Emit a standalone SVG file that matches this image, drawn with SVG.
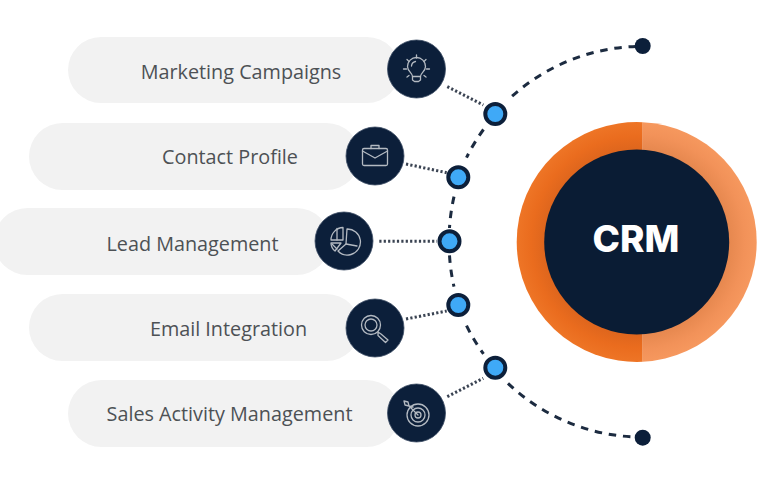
<svg xmlns="http://www.w3.org/2000/svg" width="768" height="478" viewBox="0 0 768 478">
  <style>
    .pill { fill: #f2f2f2; }
    .label { font-family: "Open Sans", "Noto Sans", sans-serif; font-size: 19.8px; fill: #4d5155; text-anchor: middle; }
    .badge { fill: #0c1f3a; stroke: #3c4c64; stroke-width: 0.8; }
    .glyph { fill: none; stroke: #b4bac2; stroke-width: 1.3; stroke-linecap: round; stroke-linejoin: round; }
    .dash { fill: none; stroke: #1c2b40; stroke-width: 3; stroke-dasharray: 7.5 6.8; }
    .dots { fill: none; stroke: #3a4352; stroke-width: 3; stroke-dasharray: 2.2 2.2; }
    .junction { fill: #3fa9f7; stroke: #0c1f3a; stroke-width: 4; }
    .end { fill: #0c1f3a; }
  </style>
  <defs>
    <radialGradient id="ringLeft" gradientUnits="userSpaceOnUse" cx="636.7" cy="242" r="120">
      <stop offset="0.76" stop-color="#dd651d"/>
      <stop offset="0.88" stop-color="#ea6c1e"/>
      <stop offset="1" stop-color="#ee7526"/>
    </radialGradient>
    <radialGradient id="ringRight" gradientUnits="userSpaceOnUse" cx="636.7" cy="242" r="120">
      <stop offset="0.76" stop-color="#e5874e"/>
      <stop offset="0.9" stop-color="#f29259"/>
      <stop offset="1" stop-color="#f6985e"/>
    </radialGradient>
  </defs>
  <rect width="768" height="478" fill="#ffffff"/>

  <g id="connectors">
    <path class="dash" d="M636 46.4A195.5 195.5 0 0 0 508 100"/>
    <path class="dash" d="M483.5 129.5A195.5 195.5 0 0 0 466.5 157.7"/>
    <path class="dash" d="M454 196.7A195.5 195.5 0 0 0 449.5 228"/>
    <path class="dash" d="M449.5 255.4A195.5 195.5 0 0 0 454 286.7"/>
    <path class="dash" d="M466.5 325.7A195.5 195.5 0 0 0 483.5 353.9"/>
    <path class="dash" d="M508 383.4A195.5 195.5 0 0 0 636 437"/>
    <path class="dots" d="M447.3 86.7L483.3 105"/>
    <path class="dots" d="M406 164L446.7 172.7"/>
    <path class="dots" d="M379.3 241.3H437"/>
    <path class="dots" d="M406 319L446.7 311"/>
    <path class="dots" d="M447.3 396.7L483.3 378.3"/>
  </g>

  <g id="junctions">
    <circle class="junction" cx="495.3" cy="114" r="10"/>
    <circle class="junction" cx="458.3" cy="177.3" r="10"/>
    <circle class="junction" cx="449.5" cy="241.3" r="10"/>
    <circle class="junction" cx="458.3" cy="305" r="10"/>
    <circle class="junction" cx="495.3" cy="367.7" r="10"/>
    <circle class="end" cx="642.7" cy="46" r="8"/>
    <circle class="end" cx="642.7" cy="437.7" r="8"/>
  </g>

  <g id="marketing-campaigns">
    <rect class="pill" x="68" y="37" width="332" height="66" rx="33"/>
    <circle class="badge" cx="416.5" cy="69" r="29"/>
    <text class="label" x="241" y="79">Marketing Campaigns</text>
    <g class="glyph">
      <path d="M412.5 76.5C412.5 73 407.5 71.5 407.5 66.5A9 9 0 0 1 425.5 66.5C425.5 71.5 420.500 73 420.500 76.500Z"/>
      <path d="M412.5 76.5V80L414.5 81.5H418.5L420.5 80V76.5M411.5 66A5 5 0 0 1 415.5 61.5"/>
      <path d="M403.5 69H406.5M426.5 69H429.5M416.5 55V58M407 59.5L409 61.5M426 59.5L424 61.5M407 77L409 75.5M426 77L424 75.5"/>
    </g>
  </g>

  <g id="contact-profile">
    <rect class="pill" x="29" y="123" width="331" height="67" rx="33.5"/>
    <circle class="badge" cx="375" cy="156" r="29"/>
    <text class="label" x="230" y="164">Contact Profile</text>
    <g class="glyph">
      <rect x="362.500" y="148.500" width="25" height="17" rx="1.5"/>
      <path d="M362.5 151L375 158L387.5 151M371 148.5V145.5H379V148.5"/>
    </g>
  </g>

  <g id="lead-management">
    <rect class="pill" x="-6" y="208" width="336" height="67" rx="33.5"/>
    <circle class="badge" cx="344" cy="241" r="29"/>
    <text class="label" x="192.5" y="251">Lead Management</text>
    <g class="glyph">
      <path d="M347 229A13 13 0 0 1 351 254.5A13 13 0 0 1 338 251L346 244Z"/>
      <path d="M346 244L357 246"/>
      <path d="M343 227.5V240H331A12.5 12.5 0 0 1 343 227.5Z"/>
      <path d="M331 243H341L335 251C332.5 249 331 246 331 243Z"/>
      <path d="M337 228.5V240M332 244L337 249"/>
    </g>
  </g>

  <g id="email-integration">
    <rect class="pill" x="29" y="294" width="331" height="67" rx="33.5"/>
    <circle class="badge" cx="375" cy="328" r="29"/>
    <text class="label" x="228.5" y="336">Email Integration</text>
    <g class="glyph">
      <circle cx="371" cy="325" r="9.5"/>
      <circle cx="371" cy="325" r="6"/>
      <path d="M378 332L381 334L388 340L385.5 342.5L378 335.5L378 332"/>
    </g>
  </g>

  <g id="sales-activity-management">
    <rect class="pill" x="68" y="380" width="332" height="67" rx="33.5"/>
    <circle class="badge" cx="416.5" cy="413" r="29"/>
    <text class="label" x="229.5" y="421">Sales Activity Management</text>
    <g class="glyph">
      <circle cx="418" cy="415" r="11"/>
      <circle cx="418" cy="415" r="7"/>
      <circle cx="418" cy="415" r="3"/>
      <path d="M418 415L409 406M409 406L405 405L404 401L408 402L409 406M409 406L413 407"/>
    </g>
  </g>

  <g id="crm">
    <path fill="url(#ringLeft)" d="M642.7 122.15A120 120 0 1 0 642.7 361.85Z"/>
    <path fill="url(#ringRight)" d="M642.7 122.15A120 120 0 0 1 642.7 361.85Z"/>
    <circle cx="636.7" cy="242" r="92.5" fill="#0a1c34"/>
    <text x="636" y="252" font-family="Inter, 'Liberation Sans', sans-serif" font-size="37" font-weight="800" fill="#ffffff" text-anchor="middle">CRM</text>
  </g>
</svg>
